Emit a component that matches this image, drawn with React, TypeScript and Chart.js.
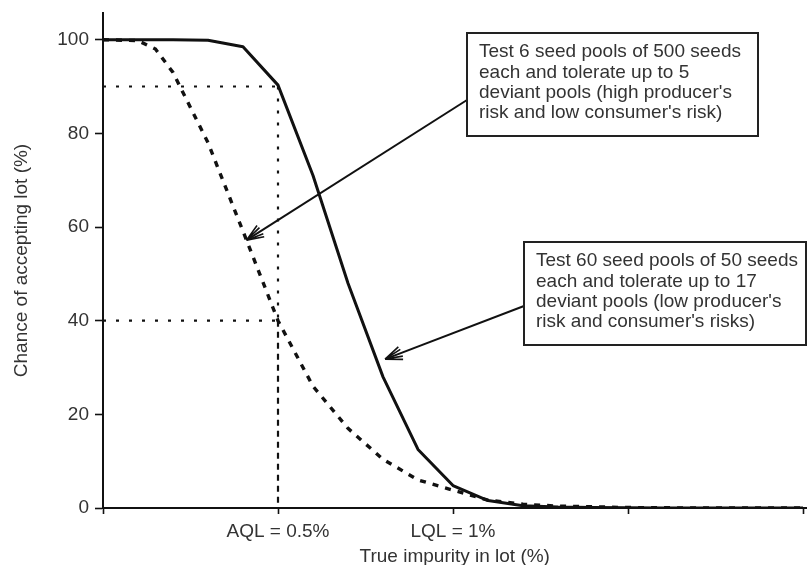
import React, { useEffect, useRef } from 'react';
import { Chart, registerables } from 'chart.js';

Chart.register(...registerables);

// True impurity in lot (%)
const X_SOLID = [0, 0.1, 0.2, 0.3, 0.4, 0.5, 0.6, 0.7, 0.8, 0.9, 1.0, 1.1, 1.2, 1.3, 1.4, 1.6, 1.8, 2.0];
// Chance of accepting lot (%) – 60 pools of 50 seeds, tolerate 17
const Y_SOLID = [100, 100, 100, 99.9, 98.5, 90.3, 71, 48, 28, 12.5, 4.8, 1.6, 0.5, 0.2, 0.1, 0, 0, 0];

const X_DASHED = [0, 0.1, 0.15, 0.2, 0.3, 0.41, 0.5, 0.6, 0.7, 0.8, 0.9, 1.0, 1.1, 1.2, 1.3, 1.5, 1.7, 2.0];
// 6 pools of 500 seeds, tolerate 5
const Y_DASHED = [100, 99.8, 98, 93, 78, 57.2, 40, 26, 17, 10.4, 6, 3.8, 1.7, 0.8, 0.4, 0.1, 0, 0];

const AQL = 0.5;
const PRODUCER_LEVEL = 90;
const CONSUMER_LEVEL = 40;

const X_TICK_VALUES = [0, 0.5, 1, 1.5, 2];
const X_TICK_LABELS = ['', 'AQL = 0.5%', 'LQL = 1%', '', ''];
const Y_TICK_VALUES = [0, 20, 40, 60, 80, 100];

const NOTE_DASHED = [
  'Test 6 seed pools of 500 seeds',
  'each and tolerate up to 5',
  "deviant pools (high producer's",
  "risk and low consumer's risk)",
];
const NOTE_SOLID = [
  'Test 60 seed pools of 50 seeds',
  'each and tolerate up to 17',
  "deviant pools (low producer's",
  "risk and consumer's risks)",
];
// arrow tips in data coordinates
const TIP_DASHED = { x: 0.41, y: 57.2 };
const TIP_SOLID = { x: 0.806, y: 31.8 };

const FONT = '"Liberation Sans", Arial, sans-serif';
const TEXT_COLOR = '#333';
const INK = '#111';

const pts = (xs: number[], ys: number[]) => xs.map((x, i) => ({ x, y: ys[i] }));

function drawArrow(ctx: CanvasRenderingContext2D, x1: number, y1: number, x2: number, y2: number) {
  ctx.save();
  ctx.strokeStyle = INK;
  ctx.lineWidth = 2;
  ctx.beginPath();
  ctx.moveTo(x1, y1);
  ctx.lineTo(x2, y2);
  ctx.stroke();
  const ang = Math.atan2(y2 - y1, x2 - x1);
  const L = 18;
  ctx.lineWidth = 1.6;
  ctx.beginPath();
  for (const a of [-0.38, -0.2, 0.2, 0.38]) {
    ctx.moveTo(x2, y2);
    ctx.lineTo(x2 - L * Math.cos(ang + a), y2 - L * Math.sin(ang + a));
  }
  ctx.stroke();
  ctx.restore();
}

function drawBox(ctx: CanvasRenderingContext2D, x: number, y: number, w: number, h: number, lines: string[]) {
  ctx.save();
  ctx.fillStyle = '#fff';
  ctx.fillRect(x, y, w, h);
  ctx.strokeStyle = '#222';
  ctx.lineWidth = 2;
  ctx.strokeRect(x, y, w, h);
  ctx.fillStyle = TEXT_COLOR;
  ctx.font = `19px ${FONT}`;
  ctx.textBaseline = 'middle';
  ctx.textAlign = 'left';
  lines.forEach((t, i) => ctx.fillText(t, x + 12, y + 19 + i * 20.4));
  ctx.restore();
}

const annotations = {
  id: 'annotations',
  beforeDraw(chart: any) {
    const ctx = chart.ctx;
    ctx.save();
    ctx.fillStyle = '#fff';
    ctx.fillRect(0, 0, chart.width, chart.height);
    ctx.restore();
  },
  afterDraw(chart: any) {
    const ctx = chart.ctx as CanvasRenderingContext2D;
    const xs = chart.scales.x;
    const ys = chart.scales.y;
    drawArrow(ctx, 467, 100, xs.getPixelForValue(TIP_DASHED.x), ys.getPixelForValue(TIP_DASHED.y));
    drawArrow(ctx, 524, 306, xs.getPixelForValue(TIP_SOLID.x), ys.getPixelForValue(TIP_SOLID.y));
    drawBox(ctx, 467, 33, 291, 103, NOTE_DASHED);
    drawBox(ctx, 524, 242, 282, 103, NOTE_SOLID);
  },
};

export default function App() {
  const ref = useRef<HTMLCanvasElement>(null);
  useEffect(() => {
    const refLine = (data: { x: number; y: number }[], dash: number[]) => ({
      data,
      borderColor: INK,
      borderWidth: 2.2,
      borderDash: dash,
      borderCapStyle: 'butt' as const,
      pointRadius: 0,
      tension: 0,
      fill: false,
    });
    const chart = new Chart(ref.current!, {
      type: 'line',
      data: {
        datasets: [
          {
            data: pts(X_SOLID, Y_SOLID),
            borderColor: INK,
            borderWidth: 3,
            pointRadius: 0,
            tension: 0,
            fill: false,
            borderJoinStyle: 'round',
          },
          {
            data: pts(X_DASHED, Y_DASHED),
            borderColor: INK,
            borderWidth: 3.4,
            borderDash: [6, 7],
            pointRadius: 0,
            tension: 0,
            fill: false,
          },
          refLine([{ x: 0, y: PRODUCER_LEVEL }, { x: AQL, y: PRODUCER_LEVEL }], [3, 10]),
          refLine([{ x: AQL, y: PRODUCER_LEVEL }, { x: AQL, y: CONSUMER_LEVEL }], [3, 9]),
          refLine([{ x: 0, y: CONSUMER_LEVEL }, { x: AQL, y: CONSUMER_LEVEL }], [3, 10]),
          refLine([{ x: AQL, y: CONSUMER_LEVEL }, { x: AQL, y: 0 }], [6, 5]),
        ],
      },
      options: {
        responsive: false,
        animation: false,
        layout: { padding: { top: 13, right: 1.5, left: 0, bottom: 0 } },
        plugins: { legend: { display: false }, tooltip: { enabled: false } },
        scales: {
          x: {
            type: 'linear',
            min: 0,
            max: 2.01,
            afterBuildTicks: (s: any) => {
              s.ticks = X_TICK_VALUES.map((v) => ({ value: v }));
            },
            afterFit: (s: any) => {
              s.height = 57;
              s.paddingLeft = 0;
              s.paddingRight = 0;
            },
            ticks: {
              autoSkip: false,
              maxRotation: 0,
              padding: 6,
              color: TEXT_COLOR,
              font: { family: FONT, size: 19 },
              callback: (_v: any, i: number) => X_TICK_LABELS[i],
            },
            grid: { display: true, drawOnChartArea: false, drawTicks: true, tickLength: 6, tickColor: INK, tickWidth: 1.6 },
            border: { display: true, color: INK, width: 2 },
            title: {
              display: true,
              text: 'True impurity in lot (%)',
              color: TEXT_COLOR,
              font: { family: FONT, size: 19, lineHeight: 0.85 },
              padding: { top: 0, bottom: 0 },
            },
          },
          y: {
            type: 'linear',
            min: 0,
            max: 105.7,
            afterBuildTicks: (s: any) => {
              s.ticks = Y_TICK_VALUES.map((v) => ({ value: v }));
            },
            afterFit: (s: any) => {
              s.width = 103;
              s.paddingTop = 0;
              s.paddingBottom = 0;
            },
            ticks: {
              padding: 6,
              color: TEXT_COLOR,
              font: { family: FONT, size: 19 },
              callback: (v: any) => String(v),
            },
            grid: { display: true, drawOnChartArea: false, drawTicks: true, tickLength: 8, tickColor: INK, tickWidth: 1.6 },
            border: { display: true, color: INK, width: 2 },
            title: {
              display: true,
              text: 'Chance of accepting lot (%)',
              color: TEXT_COLOR,
              font: { family: FONT, size: 19, lineHeight: 1.2 },
              padding: { top: 10, bottom: 0 },
            },
          },
        },
      },
      plugins: [annotations],
    } as any);
    return () => chart.destroy();
  }, []);
  return (
    <div style={{ position: 'absolute', left: 0, top: 0, width: 808, height: 565, background: '#fff' }}>
      <canvas ref={ref} width={808} height={565} style={{ display: 'block', width: 808, height: 565 }} />
    </div>
  );
}
